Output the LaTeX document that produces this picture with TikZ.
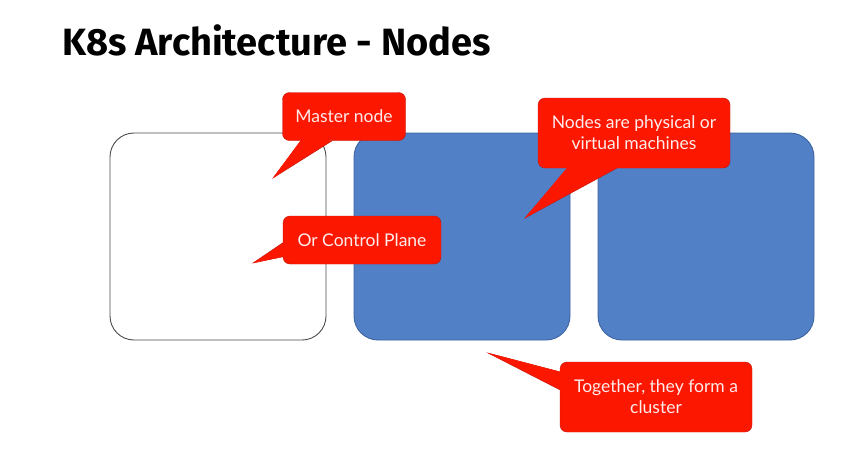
\documentclass[tikz,border=0pt]{standalone}
\usepackage{fontspec}
\setmainfont{Lato}
\newfontfamily\titlefont{Fira Sans}
\usetikzlibrary{calc}

\definecolor{machineblue}{RGB}{81,128,199}
\definecolor{machineedge}{RGB}{62,100,160}
\definecolor{calloutred}{RGB}{252,24,0}
\definecolor{calloutedge}{RGB}{190,20,10}

\tikzset{
  machine/.style={draw=#1, line width=0.9pt, rounded corners=24pt, minimum width=216pt, minimum height=207pt, inner sep=0pt},
  callout/.style={fill=calloutred, draw=calloutedge, rounded corners=7pt, text=white!92!red,
    align=center, font=\fontsize{17.5}{21}\selectfont, inner sep=0pt},
  tail/.style={fill=calloutred, draw=calloutedge, line join=miter},
}

\begin{document}
\begin{tikzpicture}[x=1pt,y=-1pt]
    \useasboundingbox[fill=white] (0,0) rectangle (867,455);
    \node[anchor=base west, font=\titlefont\bfseries\fontsize{38}{42}\selectfont] (title) at (59,55) {K8s Architecture - Nodes};

    % the three machines
    \node[machine=black!70, fill=white] (master) at (218,236.5) {};
    \node[machine=machineedge, fill=machineblue] (worker1) at (462,236.5) {};
    \node[machine=machineedge, fill=machineblue] (worker2) at (706,236.5) {};

    % callouts
    \node[callout, minimum width=123pt, minimum height=48pt] (mastertxt) at (344,116.5) {Master node};
    \node[callout, minimum width=158pt, minimum height=48pt] (planetxt) at (362,240) {Or Control Plane};
    \node[callout, minimum width=192pt, minimum height=70pt] (vmtxt) at (634,133) {Nodes are physical or\\virtual machines};
    \node[callout, minimum width=192pt, minimum height=70pt] (clustertxt) at (656,397) {Together, they form a\\cluster};

    \coordinate (mastertip) at (273,178);
    \coordinate (planetip) at (253,263);
    \coordinate (vmtip) at (525,218);
    \coordinate (clustertip) at (488,353);

    % tails
    \draw[tail] ($(mastertxt.south west)+(19,0)$) -- (mastertip) -- ($(mastertxt.south west)+(50,0)$);
    \fill[calloutred] ($(mastertxt.south west)+(19.5,-2)$) -- (mastertip) -- ($(mastertxt.south west)+(49.5,-2)$) -- cycle;
    \draw[tail] ($(planetxt.north west)+(0,27)$) -- (planetip) -- ($(planetxt.north west)+(0,41)$);
    \fill[calloutred] ($(planetxt.north west)+(2,27.5)$) -- (planetip) -- ($(planetxt.north west)+(2,40.5)$) -- cycle;
    \draw[tail] ($(vmtxt.south west)+(30,0)$) -- (vmtip) -- ($(vmtxt.south west)+(79,0)$);
    \fill[calloutred] ($(vmtxt.south west)+(30.5,-2)$) -- (vmtip) -- ($(vmtxt.south west)+(78.5,-2)$) -- cycle;
    \draw[tail] ($(clustertxt.north west)+(0,10)$) -- (clustertip) -- ($(clustertxt.north west)+(0,28)$);
    \fill[calloutred] ($(clustertxt.north west)+(2,10.5)$) -- (clustertip) -- ($(clustertxt.north west)+(2,27.5)$) -- cycle;
\end{tikzpicture}
\end{document}
